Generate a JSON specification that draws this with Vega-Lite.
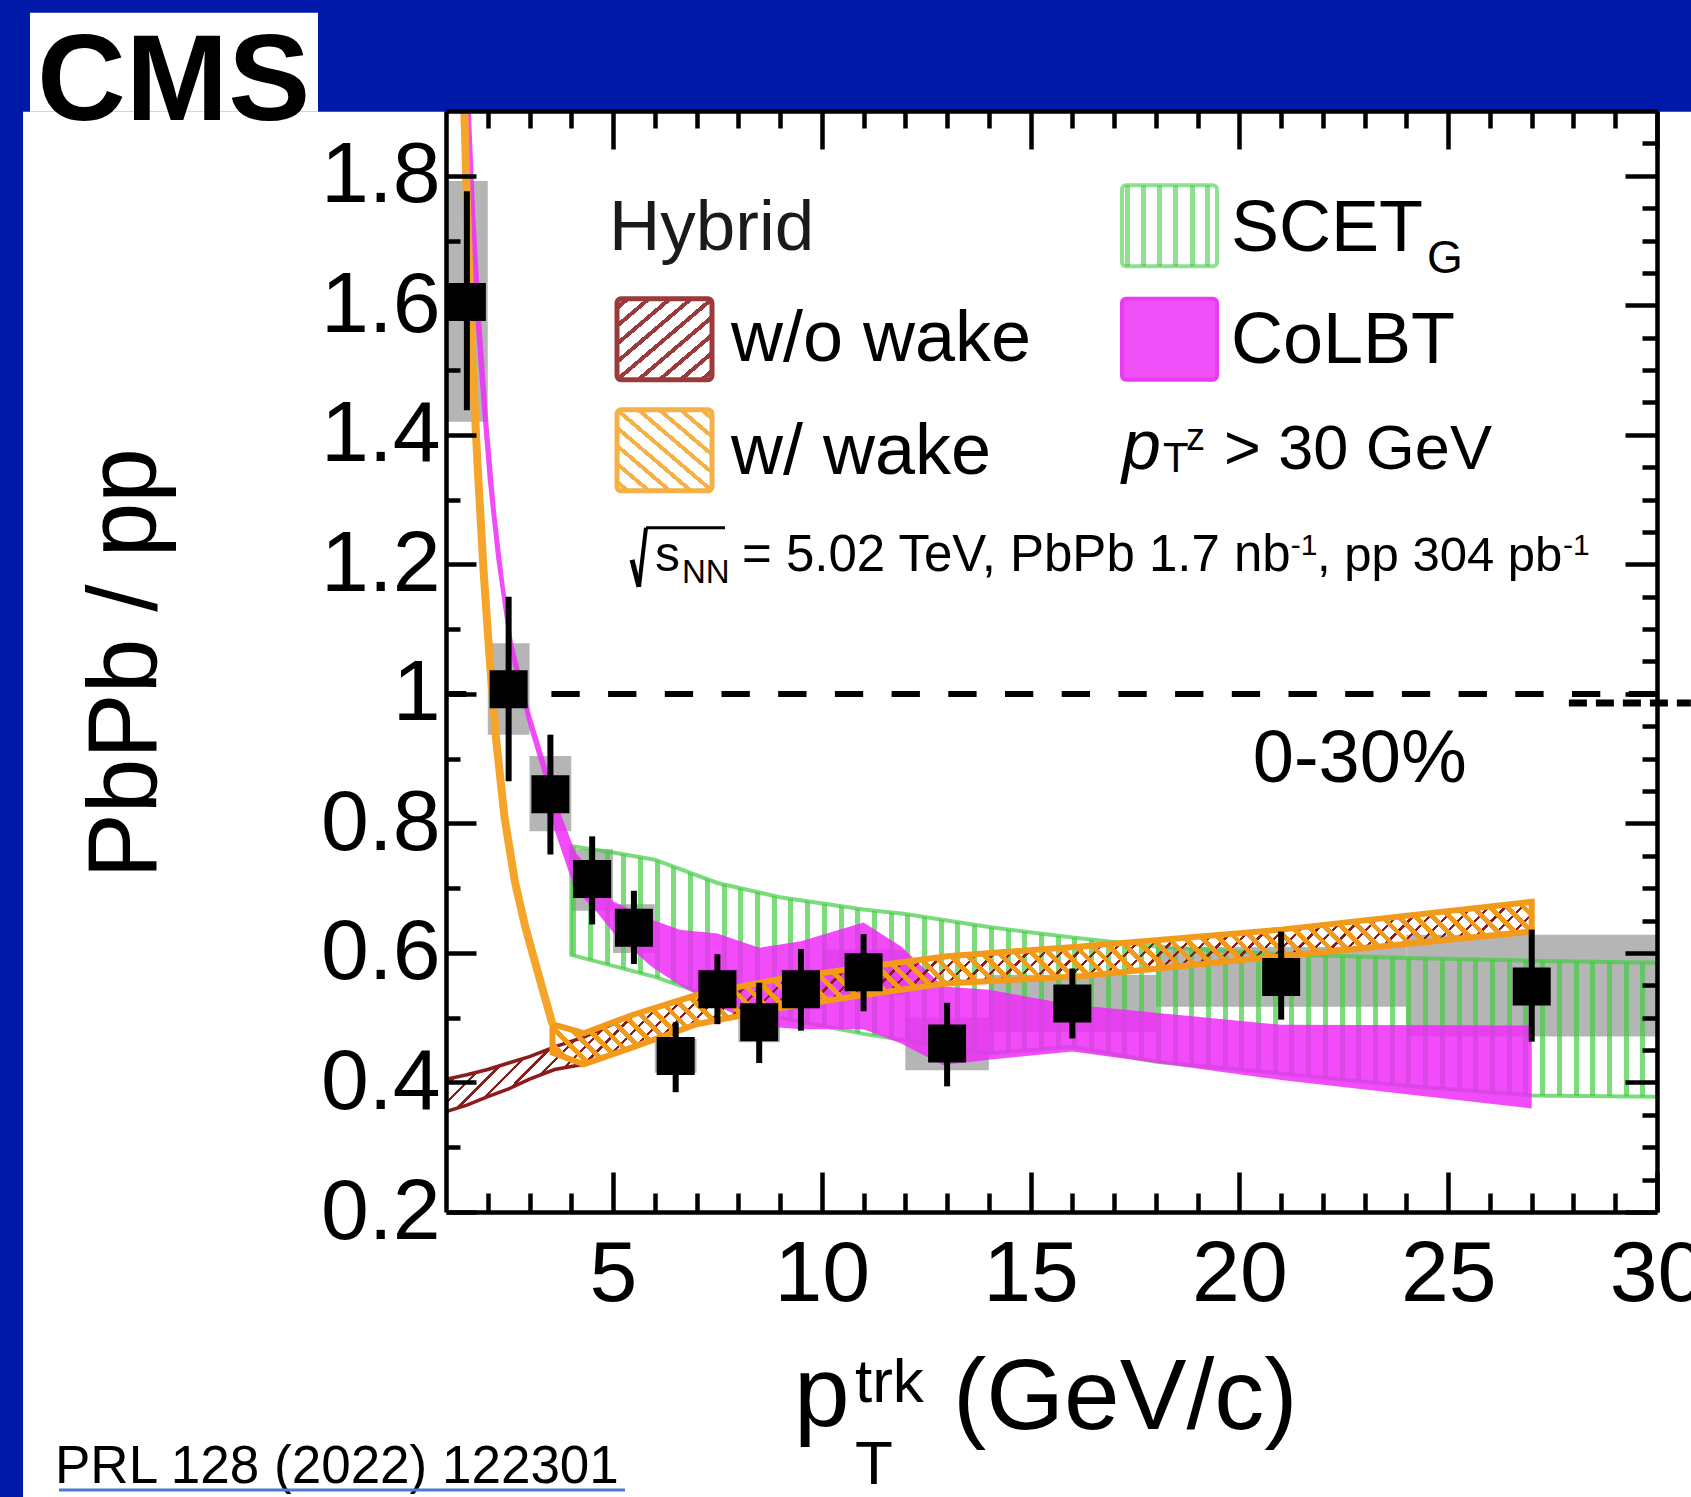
{
"$schema":"https://vega.github.io/schema/vega-lite/v6.json",
"width":1211,"height":1101,
"autosize":{"type":"none"},
"padding":{"left":446,"top":111,"right":34,"bottom":285},
"background":"#0019a8",
"config":{"view":{"stroke":null},"font":"Liberation Sans"},
"datasets":{
"pts":[
{"x":1.5,"y":1.605,"elo":1.438,"ehi":1.776,"slo":1.42,"shi":1.792,"bl":1,"bh":2},
{"x":2.5,"y":1.007,"elo":0.865,"ehi":1.15,"slo":0.937,"shi":1.078,"bl":2,"bh":3},
{"x":3.5,"y":0.845,"elo":0.752,"ehi":0.937,"slo":0.788,"shi":0.904,"bl":3,"bh":4},
{"x":4.5,"y":0.714,"elo":0.644,"ehi":0.78,"slo":0.665,"shi":0.76,"bl":4,"bh":5},
{"x":5.5,"y":0.639,"elo":0.583,"ehi":0.696,"slo":0.6,"shi":0.675,"bl":5,"bh":6},
{"x":6.5,"y":0.441,"elo":0.385,"ehi":0.493,"slo":0.415,"shi":0.467,"bl":6,"bh":7},
{"x":7.5,"y":0.544,"elo":0.49,"ehi":0.598,"slo":0.515,"shi":0.575,"bl":7,"bh":8},
{"x":8.5,"y":0.493,"elo":0.43,"ehi":0.554,"slo":0.462,"shi":0.523,"bl":8,"bh":9},
{"x":9.5,"y":0.544,"elo":0.48,"ehi":0.606,"slo":0.513,"shi":0.575,"bl":9,"bh":10},
{"x":11,"y":0.57,"elo":0.51,"ehi":0.629,"slo":0.535,"shi":0.605,"bl":10,"bh":12},
{"x":13,"y":0.46,"elo":0.394,"ehi":0.523,"slo":0.419,"shi":0.5,"bl":12,"bh":14},
{"x":16,"y":0.522,"elo":0.468,"ehi":0.576,"slo":0.478,"shi":0.566,"bl":14,"bh":18},
{"x":21,"y":0.563,"elo":0.497,"ehi":0.633,"slo":0.517,"shi":0.609,"bl":18,"bh":24},
{"x":27,"y":0.548,"elo":0.463,"ehi":0.636,"slo":0.471,"shi":0.628,"bl":24,"bh":30}],
"scet":[
{"x":4,"lo":0.597,"hi":0.765},{"x":5,"lo":0.58,"hi":0.755},{"x":6,"lo":0.563,"hi":0.744},{"x":7.5,"lo":0.53,"hi":0.708},{"x":9,"lo":0.5,"hi":0.686},{"x":11,"lo":0.475,"hi":0.667},{"x":12,"lo":0.465,"hi":0.66},{"x":14,"lo":0.445,"hi":0.64},{"x":16,"lo":0.455,"hi":0.624},{"x":18,"lo":0.432,"hi":0.61},{"x":21,"lo":0.414,"hi":0.598},{"x":24,"lo":0.395,"hi":0.592},{"x":27,"lo":0.38,"hi":0.588},{"x":30,"lo":0.378,"hi":0.585}],
"colbt":[
{"x":1.4,"lo":1.95,"hi":2.15},{"x":1.55,"lo":1.78,"hi":1.97},{"x":1.7,"lo":1.58,"hi":1.74},{"x":1.85,"lo":1.45,"hi":1.57},{"x":2.0,"lo":1.33,"hi":1.43},{"x":2.2,"lo":1.21,"hi":1.28},{"x":2.4,"lo":1.12,"hi":1.17},{"x":2.6,"lo":1.045,"hi":1.08},{"x":3.0,"lo":0.945,"hi":0.975},{"x":3.4,"lo":0.86,"hi":0.89},{"x":3.6,"lo":0.79,"hi":0.84},{"x":4.1,"lo":0.695,"hi":0.755},{"x":4.5,"lo":0.672,"hi":0.725},{"x":5.0,"lo":0.632,"hi":0.68},{"x":5.9,"lo":0.58,"hi":0.652},{"x":6.6,"lo":0.55,"hi":0.636},{"x":7.5,"lo":0.518,"hi":0.63},{"x":8.5,"lo":0.487,"hi":0.608},{"x":9.5,"lo":0.482,"hi":0.618},{"x":11.0,"lo":0.482,"hi":0.647},{"x":11.9,"lo":0.46,"hi":0.61},{"x":12.9,"lo":0.427,"hi":0.548},{"x":14.0,"lo":0.435,"hi":0.543},{"x":16.0,"lo":0.448,"hi":0.52},{"x":21.0,"lo":0.404,"hi":0.489},{"x":27.0,"lo":0.36,"hi":0.488}],
"nowake":[
{"x":1,"lo":0.355,"hi":0.405},{"x":1.5,"lo":0.365,"hi":0.412},{"x":2,"lo":0.378,"hi":0.42},{"x":2.5,"lo":0.39,"hi":0.43},{"x":3,"lo":0.405,"hi":0.44},{"x":3.6,"lo":0.42,"hi":0.455},{"x":4.3,"lo":0.428,"hi":0.47},{"x":5.5,"lo":0.455,"hi":0.505},{"x":7,"lo":0.49,"hi":0.535},{"x":9,"lo":0.515,"hi":0.56},{"x":11,"lo":0.535,"hi":0.578},{"x":13,"lo":0.553,"hi":0.595},{"x":16.2,"lo":0.564,"hi":0.61},{"x":21,"lo":0.595,"hi":0.636},{"x":27,"lo":0.633,"hi":0.679}],
"wake":[
{"x":3.55,"lo":0.446,"hi":0.49},{"x":4.3,"lo":0.428,"hi":0.476},{"x":5.5,"lo":0.455,"hi":0.505},{"x":7,"lo":0.49,"hi":0.535},{"x":9,"lo":0.515,"hi":0.56},{"x":11,"lo":0.535,"hi":0.578},{"x":13,"lo":0.553,"hi":0.595},{"x":16.2,"lo":0.564,"hi":0.61},{"x":21,"lo":0.595,"hi":0.636},{"x":27,"lo":0.633,"hi":0.679}],
"wakecurve":[
{"x":1.43,"y":1.92},{"x":1.52,"y":1.72},{"x":1.62,"y":1.53},{"x":1.75,"y":1.36},{"x":1.9,"y":1.19},{"x":2.05,"y":1.05},{"x":2.2,"y":0.93},{"x":2.4,"y":0.81},{"x":2.65,"y":0.71},{"x":2.9,"y":0.64},{"x":3.2,"y":0.57},{"x":3.55,"y":0.49}]
},
"data":{"values":[{}]},
"layer":[
{"layer":[
{"mark":{"type":"rect","color":"white","strokeWidth":0},"encoding":{"x":{"datum":-9.129},"x2":{"datum":32},"y":{"datum":1.8988},"y2":{"datum":-0.35}}},
{"mark":{"type":"rect","color":"white","strokeWidth":0},"encoding":{"x":{"datum":-8.962},"x2":{"datum":-2.065},"y":{"datum":2.0517},"y2":{"datum":1.8988}}},
{"data":{"name":"pts"},"mark":{"type":"rect","color":"#b5b5b5","clip":true},
"encoding":{
"x":{"field":"bl","type":"quantitative","scale":{"domain":[1,30],"nice":false,"zero":false},
"axis":{"orient":"bottom","values":[2,3,4,5,6,7,8,9,10,11,12,13,14,15,16,17,18,19,20,21,22,23,24,25,26,27,28,29,30],"tickSize":{"condition":{"test":"datum.value % 5 === 0","value":-40},"value":-19},"tickWidth":4.5,"tickColor":"black","domainColor":"black","domainWidth":4.5,"labelExpr":"datum.value % 5 === 0 ? datum.label : ''","labelFont":"Liberation Sans","labelFontSize":86,"labelColor":"black","labelPadding":60,"labelFlush":false,"labelOverlap":false,"labelBound":false,"grid":false,"title":null,"zindex":1}},
"x2":{"field":"bh"},
"y":{"field":"slo","type":"quantitative","scale":{"domain":[0.2,1.9],"nice":false,"zero":false},
"axis":{"orient":"left","values":[0.2,0.25,0.3,0.35,0.4,0.45,0.5,0.55,0.6,0.65,0.7,0.75,0.8,0.85,0.9,0.95,1,1.05,1.1,1.15,1.2,1.25,1.3,1.35,1.4,1.45,1.5,1.55,1.6,1.65,1.7,1.75,1.8,1.85],"tickSize":{"condition":{"test":"abs(datum.value*5-round(datum.value*5))<0.001","value":-30},"value":-14},"tickWidth":4.5,"tickColor":"black","domainColor":"black","domainWidth":4.5,"labelExpr":"abs(datum.value*5-round(datum.value*5))<0.001 ? (datum.value==1 ? '1' : format(datum.value,'.1f')) : ''","labelFont":"Liberation Sans","labelFontSize":86,"labelColor":"black","labelPadding":36,"labelFlush":false,"labelOverlap":false,"labelBound":false,"grid":false,"title":null,"zindex":1}},
"y2":{"field":"shi"}}},
{"data":{"name":"scet"},"mark":{"type":"area","clip":true,"fillOpacity":0.7,"stroke":"#44cc44","strokeOpacity":0.7,"strokeWidth":4,
"fill":{"gradient":"linear","x1":0,"y1":0,"x2":1,"y2":0,"stops":[
{"offset":0,"color":"#4c4"},{"offset":0.0046,"color":"#4c4"},{"offset":0.0046,"color":"transparent"},{"offset":0.0154,"color":"transparent"},
{"offset":0.0154,"color":"#4c4"},{"offset":0.02,"color":"#4c4"},{"offset":0.02,"color":"transparent"},{"offset":0.0308,"color":"transparent"},
{"offset":0.0308,"color":"#4c4"},{"offset":0.0354,"color":"#4c4"},{"offset":0.0354,"color":"transparent"},{"offset":0.0462,"color":"transparent"},
{"offset":0.0462,"color":"#4c4"},{"offset":0.0508,"color":"#4c4"},{"offset":0.0508,"color":"transparent"},{"offset":0.0615,"color":"transparent"},
{"offset":0.0615,"color":"#4c4"},{"offset":0.0661,"color":"#4c4"},{"offset":0.0661,"color":"transparent"},{"offset":0.0769,"color":"transparent"},
{"offset":0.0769,"color":"#4c4"},{"offset":0.0815,"color":"#4c4"},{"offset":0.0815,"color":"transparent"},{"offset":0.0923,"color":"transparent"},
{"offset":0.0923,"color":"#4c4"},{"offset":0.0969,"color":"#4c4"},{"offset":0.0969,"color":"transparent"},{"offset":0.1077,"color":"transparent"},
{"offset":0.1077,"color":"#4c4"},{"offset":0.1123,"color":"#4c4"},{"offset":0.1123,"color":"transparent"},{"offset":0.1231,"color":"transparent"},
{"offset":0.1231,"color":"#4c4"},{"offset":0.1277,"color":"#4c4"},{"offset":0.1277,"color":"transparent"},{"offset":0.1385,"color":"transparent"},
{"offset":0.1385,"color":"#4c4"},{"offset":0.1431,"color":"#4c4"},{"offset":0.1431,"color":"transparent"},{"offset":0.1538,"color":"transparent"},
{"offset":0.1538,"color":"#4c4"},{"offset":0.1584,"color":"#4c4"},{"offset":0.1584,"color":"transparent"},{"offset":0.1692,"color":"transparent"},
{"offset":0.1692,"color":"#4c4"},{"offset":0.1738,"color":"#4c4"},{"offset":0.1738,"color":"transparent"},{"offset":0.1846,"color":"transparent"},
{"offset":0.1846,"color":"#4c4"},{"offset":0.1892,"color":"#4c4"},{"offset":0.1892,"color":"transparent"},{"offset":0.2,"color":"transparent"},
{"offset":0.2,"color":"#4c4"},{"offset":0.2046,"color":"#4c4"},{"offset":0.2046,"color":"transparent"},{"offset":0.2154,"color":"transparent"},
{"offset":0.2154,"color":"#4c4"},{"offset":0.22,"color":"#4c4"},{"offset":0.22,"color":"transparent"},{"offset":0.2308,"color":"transparent"},
{"offset":0.2308,"color":"#4c4"},{"offset":0.2354,"color":"#4c4"},{"offset":0.2354,"color":"transparent"},{"offset":0.2462,"color":"transparent"},
{"offset":0.2462,"color":"#4c4"},{"offset":0.2508,"color":"#4c4"},{"offset":0.2508,"color":"transparent"},{"offset":0.2615,"color":"transparent"},
{"offset":0.2615,"color":"#4c4"},{"offset":0.2661,"color":"#4c4"},{"offset":0.2661,"color":"transparent"},{"offset":0.2769,"color":"transparent"},
{"offset":0.2769,"color":"#4c4"},{"offset":0.2815,"color":"#4c4"},{"offset":0.2815,"color":"transparent"},{"offset":0.2923,"color":"transparent"},
{"offset":0.2923,"color":"#4c4"},{"offset":0.2969,"color":"#4c4"},{"offset":0.2969,"color":"transparent"},{"offset":0.3077,"color":"transparent"},
{"offset":0.3077,"color":"#4c4"},{"offset":0.3123,"color":"#4c4"},{"offset":0.3123,"color":"transparent"},{"offset":0.3231,"color":"transparent"},
{"offset":0.3231,"color":"#4c4"},{"offset":0.3277,"color":"#4c4"},{"offset":0.3277,"color":"transparent"},{"offset":0.3385,"color":"transparent"},
{"offset":0.3385,"color":"#4c4"},{"offset":0.3431,"color":"#4c4"},{"offset":0.3431,"color":"transparent"},{"offset":0.3538,"color":"transparent"},
{"offset":0.3538,"color":"#4c4"},{"offset":0.3584,"color":"#4c4"},{"offset":0.3584,"color":"transparent"},{"offset":0.3692,"color":"transparent"},
{"offset":0.3692,"color":"#4c4"},{"offset":0.3738,"color":"#4c4"},{"offset":0.3738,"color":"transparent"},{"offset":0.3846,"color":"transparent"},
{"offset":0.3846,"color":"#4c4"},{"offset":0.3892,"color":"#4c4"},{"offset":0.3892,"color":"transparent"},{"offset":0.4,"color":"transparent"},
{"offset":0.4,"color":"#4c4"},{"offset":0.4046,"color":"#4c4"},{"offset":0.4046,"color":"transparent"},{"offset":0.4154,"color":"transparent"},
{"offset":0.4154,"color":"#4c4"},{"offset":0.42,"color":"#4c4"},{"offset":0.42,"color":"transparent"},{"offset":0.4308,"color":"transparent"},
{"offset":0.4308,"color":"#4c4"},{"offset":0.4354,"color":"#4c4"},{"offset":0.4354,"color":"transparent"},{"offset":0.4462,"color":"transparent"},
{"offset":0.4462,"color":"#4c4"},{"offset":0.4508,"color":"#4c4"},{"offset":0.4508,"color":"transparent"},{"offset":0.4615,"color":"transparent"},
{"offset":0.4615,"color":"#4c4"},{"offset":0.4661,"color":"#4c4"},{"offset":0.4661,"color":"transparent"},{"offset":0.4769,"color":"transparent"},
{"offset":0.4769,"color":"#4c4"},{"offset":0.4815,"color":"#4c4"},{"offset":0.4815,"color":"transparent"},{"offset":0.4923,"color":"transparent"},
{"offset":0.4923,"color":"#4c4"},{"offset":0.4969,"color":"#4c4"},{"offset":0.4969,"color":"transparent"},{"offset":0.5077,"color":"transparent"},
{"offset":0.5077,"color":"#4c4"},{"offset":0.5123,"color":"#4c4"},{"offset":0.5123,"color":"transparent"},{"offset":0.5231,"color":"transparent"},
{"offset":0.5231,"color":"#4c4"},{"offset":0.5277,"color":"#4c4"},{"offset":0.5277,"color":"transparent"},{"offset":0.5385,"color":"transparent"},
{"offset":0.5385,"color":"#4c4"},{"offset":0.5431,"color":"#4c4"},{"offset":0.5431,"color":"transparent"},{"offset":0.5538,"color":"transparent"},
{"offset":0.5538,"color":"#4c4"},{"offset":0.5584,"color":"#4c4"},{"offset":0.5584,"color":"transparent"},{"offset":0.5692,"color":"transparent"},
{"offset":0.5692,"color":"#4c4"},{"offset":0.5738,"color":"#4c4"},{"offset":0.5738,"color":"transparent"},{"offset":0.5846,"color":"transparent"},
{"offset":0.5846,"color":"#4c4"},{"offset":0.5892,"color":"#4c4"},{"offset":0.5892,"color":"transparent"},{"offset":0.6,"color":"transparent"},
{"offset":0.6,"color":"#4c4"},{"offset":0.6046,"color":"#4c4"},{"offset":0.6046,"color":"transparent"},{"offset":0.6154,"color":"transparent"},
{"offset":0.6154,"color":"#4c4"},{"offset":0.62,"color":"#4c4"},{"offset":0.62,"color":"transparent"},{"offset":0.6308,"color":"transparent"},
{"offset":0.6308,"color":"#4c4"},{"offset":0.6354,"color":"#4c4"},{"offset":0.6354,"color":"transparent"},{"offset":0.6462,"color":"transparent"},
{"offset":0.6462,"color":"#4c4"},{"offset":0.6508,"color":"#4c4"},{"offset":0.6508,"color":"transparent"},{"offset":0.6615,"color":"transparent"},
{"offset":0.6615,"color":"#4c4"},{"offset":0.6661,"color":"#4c4"},{"offset":0.6661,"color":"transparent"},{"offset":0.6769,"color":"transparent"},
{"offset":0.6769,"color":"#4c4"},{"offset":0.6815,"color":"#4c4"},{"offset":0.6815,"color":"transparent"},{"offset":0.6923,"color":"transparent"},
{"offset":0.6923,"color":"#4c4"},{"offset":0.6969,"color":"#4c4"},{"offset":0.6969,"color":"transparent"},{"offset":0.7077,"color":"transparent"},
{"offset":0.7077,"color":"#4c4"},{"offset":0.7123,"color":"#4c4"},{"offset":0.7123,"color":"transparent"},{"offset":0.7231,"color":"transparent"},
{"offset":0.7231,"color":"#4c4"},{"offset":0.7277,"color":"#4c4"},{"offset":0.7277,"color":"transparent"},{"offset":0.7385,"color":"transparent"},
{"offset":0.7385,"color":"#4c4"},{"offset":0.7431,"color":"#4c4"},{"offset":0.7431,"color":"transparent"},{"offset":0.7538,"color":"transparent"},
{"offset":0.7538,"color":"#4c4"},{"offset":0.7584,"color":"#4c4"},{"offset":0.7584,"color":"transparent"},{"offset":0.7692,"color":"transparent"},
{"offset":0.7692,"color":"#4c4"},{"offset":0.7738,"color":"#4c4"},{"offset":0.7738,"color":"transparent"},{"offset":0.7846,"color":"transparent"},
{"offset":0.7846,"color":"#4c4"},{"offset":0.7892,"color":"#4c4"},{"offset":0.7892,"color":"transparent"},{"offset":0.8,"color":"transparent"},
{"offset":0.8,"color":"#4c4"},{"offset":0.8046,"color":"#4c4"},{"offset":0.8046,"color":"transparent"},{"offset":0.8154,"color":"transparent"},
{"offset":0.8154,"color":"#4c4"},{"offset":0.82,"color":"#4c4"},{"offset":0.82,"color":"transparent"},{"offset":0.8308,"color":"transparent"},
{"offset":0.8308,"color":"#4c4"},{"offset":0.8354,"color":"#4c4"},{"offset":0.8354,"color":"transparent"},{"offset":0.8462,"color":"transparent"},
{"offset":0.8462,"color":"#4c4"},{"offset":0.8508,"color":"#4c4"},{"offset":0.8508,"color":"transparent"},{"offset":0.8615,"color":"transparent"},
{"offset":0.8615,"color":"#4c4"},{"offset":0.8661,"color":"#4c4"},{"offset":0.8661,"color":"transparent"},{"offset":0.8769,"color":"transparent"},
{"offset":0.8769,"color":"#4c4"},{"offset":0.8815,"color":"#4c4"},{"offset":0.8815,"color":"transparent"},{"offset":0.8923,"color":"transparent"},
{"offset":0.8923,"color":"#4c4"},{"offset":0.8969,"color":"#4c4"},{"offset":0.8969,"color":"transparent"},{"offset":0.9077,"color":"transparent"},
{"offset":0.9077,"color":"#4c4"},{"offset":0.9123,"color":"#4c4"},{"offset":0.9123,"color":"transparent"},{"offset":0.9231,"color":"transparent"},
{"offset":0.9231,"color":"#4c4"},{"offset":0.9277,"color":"#4c4"},{"offset":0.9277,"color":"transparent"},{"offset":0.9385,"color":"transparent"},
{"offset":0.9385,"color":"#4c4"},{"offset":0.9431,"color":"#4c4"},{"offset":0.9431,"color":"transparent"},{"offset":0.9538,"color":"transparent"},
{"offset":0.9538,"color":"#4c4"},{"offset":0.9584,"color":"#4c4"},{"offset":0.9584,"color":"transparent"},{"offset":0.9692,"color":"transparent"},
{"offset":0.9692,"color":"#4c4"},{"offset":0.9738,"color":"#4c4"},{"offset":0.9738,"color":"transparent"},{"offset":0.9846,"color":"transparent"},
{"offset":0.9846,"color":"#4c4"},{"offset":0.9892,"color":"#4c4"},{"offset":0.9892,"color":"transparent"},{"offset":1,"color":"transparent"}]}},
"encoding":{"x":{"field":"x","type":"quantitative"},"y":{"field":"lo","type":"quantitative"},"y2":{"field":"hi"}}},
{"data":{"name":"colbt"},"mark":{"type":"area","clip":true,"color":"#ee2bf9","opacity":0.85},"encoding":{"x":{"field":"x","type":"quantitative"},"y":{"field":"lo","type":"quantitative"},"y2":{"field":"hi"}}},
{"data":{"name":"nowake"},"mark":{"type":"area","clip":true,"stroke":"#8c1c1c","strokeWidth":3.5,
"fill":{"gradient":"linear","x1":0,"y1":0,"x2":1.1503,"y2":0.2222,"stops":[
{"offset":0,"color":"#8c1c1c"},{"offset":0.0026,"color":"#8c1c1c"},{"offset":0.0026,"color":"transparent"},{"offset":0.0128,"color":"transparent"},
{"offset":0.0128,"color":"#8c1c1c"},{"offset":0.0154,"color":"#8c1c1c"},{"offset":0.0154,"color":"transparent"},{"offset":0.0256,"color":"transparent"},
{"offset":0.0256,"color":"#8c1c1c"},{"offset":0.0282,"color":"#8c1c1c"},{"offset":0.0282,"color":"transparent"},{"offset":0.0385,"color":"transparent"},
{"offset":0.0385,"color":"#8c1c1c"},{"offset":0.0411,"color":"#8c1c1c"},{"offset":0.0411,"color":"transparent"},{"offset":0.0513,"color":"transparent"},
{"offset":0.0513,"color":"#8c1c1c"},{"offset":0.0539,"color":"#8c1c1c"},{"offset":0.0539,"color":"transparent"},{"offset":0.0641,"color":"transparent"},
{"offset":0.0641,"color":"#8c1c1c"},{"offset":0.0667,"color":"#8c1c1c"},{"offset":0.0667,"color":"transparent"},{"offset":0.0769,"color":"transparent"},
{"offset":0.0769,"color":"#8c1c1c"},{"offset":0.0795,"color":"#8c1c1c"},{"offset":0.0795,"color":"transparent"},{"offset":0.0897,"color":"transparent"},
{"offset":0.0897,"color":"#8c1c1c"},{"offset":0.0923,"color":"#8c1c1c"},{"offset":0.0923,"color":"transparent"},{"offset":0.1026,"color":"transparent"},
{"offset":0.1026,"color":"#8c1c1c"},{"offset":0.1052,"color":"#8c1c1c"},{"offset":0.1052,"color":"transparent"},{"offset":0.1154,"color":"transparent"},
{"offset":0.1154,"color":"#8c1c1c"},{"offset":0.118,"color":"#8c1c1c"},{"offset":0.118,"color":"transparent"},{"offset":0.1282,"color":"transparent"},
{"offset":0.1282,"color":"#8c1c1c"},{"offset":0.1308,"color":"#8c1c1c"},{"offset":0.1308,"color":"transparent"},{"offset":0.141,"color":"transparent"},
{"offset":0.141,"color":"#8c1c1c"},{"offset":0.1436,"color":"#8c1c1c"},{"offset":0.1436,"color":"transparent"},{"offset":0.1538,"color":"transparent"},
{"offset":0.1538,"color":"#8c1c1c"},{"offset":0.1564,"color":"#8c1c1c"},{"offset":0.1564,"color":"transparent"},{"offset":0.1667,"color":"transparent"},
{"offset":0.1667,"color":"#8c1c1c"},{"offset":0.1693,"color":"#8c1c1c"},{"offset":0.1693,"color":"transparent"},{"offset":0.1795,"color":"transparent"},
{"offset":0.1795,"color":"#8c1c1c"},{"offset":0.1821,"color":"#8c1c1c"},{"offset":0.1821,"color":"transparent"},{"offset":0.1923,"color":"transparent"},
{"offset":0.1923,"color":"#8c1c1c"},{"offset":0.1949,"color":"#8c1c1c"},{"offset":0.1949,"color":"transparent"},{"offset":0.2051,"color":"transparent"},
{"offset":0.2051,"color":"#8c1c1c"},{"offset":0.2077,"color":"#8c1c1c"},{"offset":0.2077,"color":"transparent"},{"offset":0.2179,"color":"transparent"},
{"offset":0.2179,"color":"#8c1c1c"},{"offset":0.2205,"color":"#8c1c1c"},{"offset":0.2205,"color":"transparent"},{"offset":0.2308,"color":"transparent"},
{"offset":0.2308,"color":"#8c1c1c"},{"offset":0.2334,"color":"#8c1c1c"},{"offset":0.2334,"color":"transparent"},{"offset":0.2436,"color":"transparent"},
{"offset":0.2436,"color":"#8c1c1c"},{"offset":0.2462,"color":"#8c1c1c"},{"offset":0.2462,"color":"transparent"},{"offset":0.2564,"color":"transparent"},
{"offset":0.2564,"color":"#8c1c1c"},{"offset":0.259,"color":"#8c1c1c"},{"offset":0.259,"color":"transparent"},{"offset":0.2692,"color":"transparent"},
{"offset":0.2692,"color":"#8c1c1c"},{"offset":0.2718,"color":"#8c1c1c"},{"offset":0.2718,"color":"transparent"},{"offset":0.2821,"color":"transparent"},
{"offset":0.2821,"color":"#8c1c1c"},{"offset":0.2847,"color":"#8c1c1c"},{"offset":0.2847,"color":"transparent"},{"offset":0.2949,"color":"transparent"},
{"offset":0.2949,"color":"#8c1c1c"},{"offset":0.2975,"color":"#8c1c1c"},{"offset":0.2975,"color":"transparent"},{"offset":0.3077,"color":"transparent"},
{"offset":0.3077,"color":"#8c1c1c"},{"offset":0.3103,"color":"#8c1c1c"},{"offset":0.3103,"color":"transparent"},{"offset":0.3205,"color":"transparent"},
{"offset":0.3205,"color":"#8c1c1c"},{"offset":0.3231,"color":"#8c1c1c"},{"offset":0.3231,"color":"transparent"},{"offset":0.3333,"color":"transparent"},
{"offset":0.3333,"color":"#8c1c1c"},{"offset":0.3359,"color":"#8c1c1c"},{"offset":0.3359,"color":"transparent"},{"offset":0.3462,"color":"transparent"},
{"offset":0.3462,"color":"#8c1c1c"},{"offset":0.3488,"color":"#8c1c1c"},{"offset":0.3488,"color":"transparent"},{"offset":0.359,"color":"transparent"},
{"offset":0.359,"color":"#8c1c1c"},{"offset":0.3616,"color":"#8c1c1c"},{"offset":0.3616,"color":"transparent"},{"offset":0.3718,"color":"transparent"},
{"offset":0.3718,"color":"#8c1c1c"},{"offset":0.3744,"color":"#8c1c1c"},{"offset":0.3744,"color":"transparent"},{"offset":0.3846,"color":"transparent"},
{"offset":0.3846,"color":"#8c1c1c"},{"offset":0.3872,"color":"#8c1c1c"},{"offset":0.3872,"color":"transparent"},{"offset":0.3974,"color":"transparent"},
{"offset":0.3974,"color":"#8c1c1c"},{"offset":0.4,"color":"#8c1c1c"},{"offset":0.4,"color":"transparent"},{"offset":0.4103,"color":"transparent"},
{"offset":0.4103,"color":"#8c1c1c"},{"offset":0.4129,"color":"#8c1c1c"},{"offset":0.4129,"color":"transparent"},{"offset":0.4231,"color":"transparent"},
{"offset":0.4231,"color":"#8c1c1c"},{"offset":0.4257,"color":"#8c1c1c"},{"offset":0.4257,"color":"transparent"},{"offset":0.4359,"color":"transparent"},
{"offset":0.4359,"color":"#8c1c1c"},{"offset":0.4385,"color":"#8c1c1c"},{"offset":0.4385,"color":"transparent"},{"offset":0.4487,"color":"transparent"},
{"offset":0.4487,"color":"#8c1c1c"},{"offset":0.4513,"color":"#8c1c1c"},{"offset":0.4513,"color":"transparent"},{"offset":0.4615,"color":"transparent"},
{"offset":0.4615,"color":"#8c1c1c"},{"offset":0.4641,"color":"#8c1c1c"},{"offset":0.4641,"color":"transparent"},{"offset":0.4744,"color":"transparent"},
{"offset":0.4744,"color":"#8c1c1c"},{"offset":0.477,"color":"#8c1c1c"},{"offset":0.477,"color":"transparent"},{"offset":0.4872,"color":"transparent"},
{"offset":0.4872,"color":"#8c1c1c"},{"offset":0.4898,"color":"#8c1c1c"},{"offset":0.4898,"color":"transparent"},{"offset":0.5,"color":"transparent"},
{"offset":0.5,"color":"#8c1c1c"},{"offset":0.5026,"color":"#8c1c1c"},{"offset":0.5026,"color":"transparent"},{"offset":0.5128,"color":"transparent"},
{"offset":0.5128,"color":"#8c1c1c"},{"offset":0.5154,"color":"#8c1c1c"},{"offset":0.5154,"color":"transparent"},{"offset":0.5256,"color":"transparent"},
{"offset":0.5256,"color":"#8c1c1c"},{"offset":0.5282,"color":"#8c1c1c"},{"offset":0.5282,"color":"transparent"},{"offset":0.5385,"color":"transparent"},
{"offset":0.5385,"color":"#8c1c1c"},{"offset":0.5411,"color":"#8c1c1c"},{"offset":0.5411,"color":"transparent"},{"offset":0.5513,"color":"transparent"},
{"offset":0.5513,"color":"#8c1c1c"},{"offset":0.5539,"color":"#8c1c1c"},{"offset":0.5539,"color":"transparent"},{"offset":0.5641,"color":"transparent"},
{"offset":0.5641,"color":"#8c1c1c"},{"offset":0.5667,"color":"#8c1c1c"},{"offset":0.5667,"color":"transparent"},{"offset":0.5769,"color":"transparent"},
{"offset":0.5769,"color":"#8c1c1c"},{"offset":0.5795,"color":"#8c1c1c"},{"offset":0.5795,"color":"transparent"},{"offset":0.5897,"color":"transparent"},
{"offset":0.5897,"color":"#8c1c1c"},{"offset":0.5923,"color":"#8c1c1c"},{"offset":0.5923,"color":"transparent"},{"offset":0.6026,"color":"transparent"},
{"offset":0.6026,"color":"#8c1c1c"},{"offset":0.6052,"color":"#8c1c1c"},{"offset":0.6052,"color":"transparent"},{"offset":0.6154,"color":"transparent"},
{"offset":0.6154,"color":"#8c1c1c"},{"offset":0.618,"color":"#8c1c1c"},{"offset":0.618,"color":"transparent"},{"offset":0.6282,"color":"transparent"},
{"offset":0.6282,"color":"#8c1c1c"},{"offset":0.6308,"color":"#8c1c1c"},{"offset":0.6308,"color":"transparent"},{"offset":0.641,"color":"transparent"},
{"offset":0.641,"color":"#8c1c1c"},{"offset":0.6436,"color":"#8c1c1c"},{"offset":0.6436,"color":"transparent"},{"offset":0.6538,"color":"transparent"},
{"offset":0.6538,"color":"#8c1c1c"},{"offset":0.6564,"color":"#8c1c1c"},{"offset":0.6564,"color":"transparent"},{"offset":0.6667,"color":"transparent"},
{"offset":0.6667,"color":"#8c1c1c"},{"offset":0.6693,"color":"#8c1c1c"},{"offset":0.6693,"color":"transparent"},{"offset":0.6795,"color":"transparent"},
{"offset":0.6795,"color":"#8c1c1c"},{"offset":0.6821,"color":"#8c1c1c"},{"offset":0.6821,"color":"transparent"},{"offset":0.6923,"color":"transparent"},
{"offset":0.6923,"color":"#8c1c1c"},{"offset":0.6949,"color":"#8c1c1c"},{"offset":0.6949,"color":"transparent"},{"offset":0.7051,"color":"transparent"},
{"offset":0.7051,"color":"#8c1c1c"},{"offset":0.7077,"color":"#8c1c1c"},{"offset":0.7077,"color":"transparent"},{"offset":0.7179,"color":"transparent"},
{"offset":0.7179,"color":"#8c1c1c"},{"offset":0.7205,"color":"#8c1c1c"},{"offset":0.7205,"color":"transparent"},{"offset":0.7308,"color":"transparent"},
{"offset":0.7308,"color":"#8c1c1c"},{"offset":0.7334,"color":"#8c1c1c"},{"offset":0.7334,"color":"transparent"},{"offset":0.7436,"color":"transparent"},
{"offset":0.7436,"color":"#8c1c1c"},{"offset":0.7462,"color":"#8c1c1c"},{"offset":0.7462,"color":"transparent"},{"offset":0.7564,"color":"transparent"},
{"offset":0.7564,"color":"#8c1c1c"},{"offset":0.759,"color":"#8c1c1c"},{"offset":0.759,"color":"transparent"},{"offset":0.7692,"color":"transparent"},
{"offset":0.7692,"color":"#8c1c1c"},{"offset":0.7718,"color":"#8c1c1c"},{"offset":0.7718,"color":"transparent"},{"offset":0.7821,"color":"transparent"},
{"offset":0.7821,"color":"#8c1c1c"},{"offset":0.7847,"color":"#8c1c1c"},{"offset":0.7847,"color":"transparent"},{"offset":0.7949,"color":"transparent"},
{"offset":0.7949,"color":"#8c1c1c"},{"offset":0.7975,"color":"#8c1c1c"},{"offset":0.7975,"color":"transparent"},{"offset":0.8077,"color":"transparent"},
{"offset":0.8077,"color":"#8c1c1c"},{"offset":0.8103,"color":"#8c1c1c"},{"offset":0.8103,"color":"transparent"},{"offset":0.8205,"color":"transparent"},
{"offset":0.8205,"color":"#8c1c1c"},{"offset":0.8231,"color":"#8c1c1c"},{"offset":0.8231,"color":"transparent"},{"offset":0.8333,"color":"transparent"},
{"offset":0.8333,"color":"#8c1c1c"},{"offset":0.8359,"color":"#8c1c1c"},{"offset":0.8359,"color":"transparent"},{"offset":0.8462,"color":"transparent"},
{"offset":0.8462,"color":"#8c1c1c"},{"offset":0.8488,"color":"#8c1c1c"},{"offset":0.8488,"color":"transparent"},{"offset":0.859,"color":"transparent"},
{"offset":0.859,"color":"#8c1c1c"},{"offset":0.8616,"color":"#8c1c1c"},{"offset":0.8616,"color":"transparent"},{"offset":0.8718,"color":"transparent"},
{"offset":0.8718,"color":"#8c1c1c"},{"offset":0.8744,"color":"#8c1c1c"},{"offset":0.8744,"color":"transparent"},{"offset":0.8846,"color":"transparent"},
{"offset":0.8846,"color":"#8c1c1c"},{"offset":0.8872,"color":"#8c1c1c"},{"offset":0.8872,"color":"transparent"},{"offset":0.8974,"color":"transparent"},
{"offset":0.8974,"color":"#8c1c1c"},{"offset":0.9,"color":"#8c1c1c"},{"offset":0.9,"color":"transparent"},{"offset":0.9103,"color":"transparent"},
{"offset":0.9103,"color":"#8c1c1c"},{"offset":0.9129,"color":"#8c1c1c"},{"offset":0.9129,"color":"transparent"},{"offset":0.9231,"color":"transparent"},
{"offset":0.9231,"color":"#8c1c1c"},{"offset":0.9257,"color":"#8c1c1c"},{"offset":0.9257,"color":"transparent"},{"offset":0.9359,"color":"transparent"},
{"offset":0.9359,"color":"#8c1c1c"},{"offset":0.9385,"color":"#8c1c1c"},{"offset":0.9385,"color":"transparent"},{"offset":0.9487,"color":"transparent"},
{"offset":0.9487,"color":"#8c1c1c"},{"offset":0.9513,"color":"#8c1c1c"},{"offset":0.9513,"color":"transparent"},{"offset":0.9615,"color":"transparent"},
{"offset":0.9615,"color":"#8c1c1c"},{"offset":0.9641,"color":"#8c1c1c"},{"offset":0.9641,"color":"transparent"},{"offset":0.9744,"color":"transparent"},
{"offset":0.9744,"color":"#8c1c1c"},{"offset":0.977,"color":"#8c1c1c"},{"offset":0.977,"color":"transparent"},{"offset":0.9872,"color":"transparent"},
{"offset":0.9872,"color":"#8c1c1c"},{"offset":0.9898,"color":"#8c1c1c"},{"offset":0.9898,"color":"transparent"},{"offset":1,"color":"transparent"}]}},
"encoding":{"x":{"field":"x","type":"quantitative"},"y":{"field":"lo","type":"quantitative"},"y2":{"field":"hi"}}},
{"data":{"name":"wake"},"mark":{"type":"area","clip":true,"stroke":"#f29a1a","strokeWidth":6,
"fill":{"gradient":"linear","x1":0,"y1":1,"x2":1.1347,"y2":0.8118,"stops":[
{"offset":0,"color":"#f29a1a"},{"offset":0.0059,"color":"#f29a1a"},{"offset":0.0059,"color":"transparent"},{"offset":0.0147,"color":"transparent"},
{"offset":0.0147,"color":"#f29a1a"},{"offset":0.0206,"color":"#f29a1a"},{"offset":0.0206,"color":"transparent"},{"offset":0.0294,"color":"transparent"},
{"offset":0.0294,"color":"#f29a1a"},{"offset":0.0353,"color":"#f29a1a"},{"offset":0.0353,"color":"transparent"},{"offset":0.0441,"color":"transparent"},
{"offset":0.0441,"color":"#f29a1a"},{"offset":0.05,"color":"#f29a1a"},{"offset":0.05,"color":"transparent"},{"offset":0.0588,"color":"transparent"},
{"offset":0.0588,"color":"#f29a1a"},{"offset":0.0647,"color":"#f29a1a"},{"offset":0.0647,"color":"transparent"},{"offset":0.0735,"color":"transparent"},
{"offset":0.0735,"color":"#f29a1a"},{"offset":0.0794,"color":"#f29a1a"},{"offset":0.0794,"color":"transparent"},{"offset":0.0882,"color":"transparent"},
{"offset":0.0882,"color":"#f29a1a"},{"offset":0.0941,"color":"#f29a1a"},{"offset":0.0941,"color":"transparent"},{"offset":0.1029,"color":"transparent"},
{"offset":0.1029,"color":"#f29a1a"},{"offset":0.1088,"color":"#f29a1a"},{"offset":0.1088,"color":"transparent"},{"offset":0.1176,"color":"transparent"},
{"offset":0.1176,"color":"#f29a1a"},{"offset":0.1235,"color":"#f29a1a"},{"offset":0.1235,"color":"transparent"},{"offset":0.1324,"color":"transparent"},
{"offset":0.1324,"color":"#f29a1a"},{"offset":0.1383,"color":"#f29a1a"},{"offset":0.1383,"color":"transparent"},{"offset":0.1471,"color":"transparent"},
{"offset":0.1471,"color":"#f29a1a"},{"offset":0.153,"color":"#f29a1a"},{"offset":0.153,"color":"transparent"},{"offset":0.1618,"color":"transparent"},
{"offset":0.1618,"color":"#f29a1a"},{"offset":0.1677,"color":"#f29a1a"},{"offset":0.1677,"color":"transparent"},{"offset":0.1765,"color":"transparent"},
{"offset":0.1765,"color":"#f29a1a"},{"offset":0.1824,"color":"#f29a1a"},{"offset":0.1824,"color":"transparent"},{"offset":0.1912,"color":"transparent"},
{"offset":0.1912,"color":"#f29a1a"},{"offset":0.1971,"color":"#f29a1a"},{"offset":0.1971,"color":"transparent"},{"offset":0.2059,"color":"transparent"},
{"offset":0.2059,"color":"#f29a1a"},{"offset":0.2118,"color":"#f29a1a"},{"offset":0.2118,"color":"transparent"},{"offset":0.2206,"color":"transparent"},
{"offset":0.2206,"color":"#f29a1a"},{"offset":0.2265,"color":"#f29a1a"},{"offset":0.2265,"color":"transparent"},{"offset":0.2353,"color":"transparent"},
{"offset":0.2353,"color":"#f29a1a"},{"offset":0.2412,"color":"#f29a1a"},{"offset":0.2412,"color":"transparent"},{"offset":0.25,"color":"transparent"},
{"offset":0.25,"color":"#f29a1a"},{"offset":0.2559,"color":"#f29a1a"},{"offset":0.2559,"color":"transparent"},{"offset":0.2647,"color":"transparent"},
{"offset":0.2647,"color":"#f29a1a"},{"offset":0.2706,"color":"#f29a1a"},{"offset":0.2706,"color":"transparent"},{"offset":0.2794,"color":"transparent"},
{"offset":0.2794,"color":"#f29a1a"},{"offset":0.2853,"color":"#f29a1a"},{"offset":0.2853,"color":"transparent"},{"offset":0.2941,"color":"transparent"},
{"offset":0.2941,"color":"#f29a1a"},{"offset":0.3,"color":"#f29a1a"},{"offset":0.3,"color":"transparent"},{"offset":0.3088,"color":"transparent"},
{"offset":0.3088,"color":"#f29a1a"},{"offset":0.3147,"color":"#f29a1a"},{"offset":0.3147,"color":"transparent"},{"offset":0.3235,"color":"transparent"},
{"offset":0.3235,"color":"#f29a1a"},{"offset":0.3294,"color":"#f29a1a"},{"offset":0.3294,"color":"transparent"},{"offset":0.3382,"color":"transparent"},
{"offset":0.3382,"color":"#f29a1a"},{"offset":0.3441,"color":"#f29a1a"},{"offset":0.3441,"color":"transparent"},{"offset":0.3529,"color":"transparent"},
{"offset":0.3529,"color":"#f29a1a"},{"offset":0.3588,"color":"#f29a1a"},{"offset":0.3588,"color":"transparent"},{"offset":0.3676,"color":"transparent"},
{"offset":0.3676,"color":"#f29a1a"},{"offset":0.3735,"color":"#f29a1a"},{"offset":0.3735,"color":"transparent"},{"offset":0.3824,"color":"transparent"},
{"offset":0.3824,"color":"#f29a1a"},{"offset":0.3883,"color":"#f29a1a"},{"offset":0.3883,"color":"transparent"},{"offset":0.3971,"color":"transparent"},
{"offset":0.3971,"color":"#f29a1a"},{"offset":0.403,"color":"#f29a1a"},{"offset":0.403,"color":"transparent"},{"offset":0.4118,"color":"transparent"},
{"offset":0.4118,"color":"#f29a1a"},{"offset":0.4177,"color":"#f29a1a"},{"offset":0.4177,"color":"transparent"},{"offset":0.4265,"color":"transparent"},
{"offset":0.4265,"color":"#f29a1a"},{"offset":0.4324,"color":"#f29a1a"},{"offset":0.4324,"color":"transparent"},{"offset":0.4412,"color":"transparent"},
{"offset":0.4412,"color":"#f29a1a"},{"offset":0.4471,"color":"#f29a1a"},{"offset":0.4471,"color":"transparent"},{"offset":0.4559,"color":"transparent"},
{"offset":0.4559,"color":"#f29a1a"},{"offset":0.4618,"color":"#f29a1a"},{"offset":0.4618,"color":"transparent"},{"offset":0.4706,"color":"transparent"},
{"offset":0.4706,"color":"#f29a1a"},{"offset":0.4765,"color":"#f29a1a"},{"offset":0.4765,"color":"transparent"},{"offset":0.4853,"color":"transparent"},
{"offset":0.4853,"color":"#f29a1a"},{"offset":0.4912,"color":"#f29a1a"},{"offset":0.4912,"color":"transparent"},{"offset":0.5,"color":"transparent"},
{"offset":0.5,"color":"#f29a1a"},{"offset":0.5059,"color":"#f29a1a"},{"offset":0.5059,"color":"transparent"},{"offset":0.5147,"color":"transparent"},
{"offset":0.5147,"color":"#f29a1a"},{"offset":0.5206,"color":"#f29a1a"},{"offset":0.5206,"color":"transparent"},{"offset":0.5294,"color":"transparent"},
{"offset":0.5294,"color":"#f29a1a"},{"offset":0.5353,"color":"#f29a1a"},{"offset":0.5353,"color":"transparent"},{"offset":0.5441,"color":"transparent"},
{"offset":0.5441,"color":"#f29a1a"},{"offset":0.55,"color":"#f29a1a"},{"offset":0.55,"color":"transparent"},{"offset":0.5588,"color":"transparent"},
{"offset":0.5588,"color":"#f29a1a"},{"offset":0.5647,"color":"#f29a1a"},{"offset":0.5647,"color":"transparent"},{"offset":0.5735,"color":"transparent"},
{"offset":0.5735,"color":"#f29a1a"},{"offset":0.5794,"color":"#f29a1a"},{"offset":0.5794,"color":"transparent"},{"offset":0.5882,"color":"transparent"},
{"offset":0.5882,"color":"#f29a1a"},{"offset":0.5941,"color":"#f29a1a"},{"offset":0.5941,"color":"transparent"},{"offset":0.6029,"color":"transparent"},
{"offset":0.6029,"color":"#f29a1a"},{"offset":0.6088,"color":"#f29a1a"},{"offset":0.6088,"color":"transparent"},{"offset":0.6176,"color":"transparent"},
{"offset":0.6176,"color":"#f29a1a"},{"offset":0.6235,"color":"#f29a1a"},{"offset":0.6235,"color":"transparent"},{"offset":0.6324,"color":"transparent"},
{"offset":0.6324,"color":"#f29a1a"},{"offset":0.6383,"color":"#f29a1a"},{"offset":0.6383,"color":"transparent"},{"offset":0.6471,"color":"transparent"},
{"offset":0.6471,"color":"#f29a1a"},{"offset":0.653,"color":"#f29a1a"},{"offset":0.653,"color":"transparent"},{"offset":0.6618,"color":"transparent"},
{"offset":0.6618,"color":"#f29a1a"},{"offset":0.6677,"color":"#f29a1a"},{"offset":0.6677,"color":"transparent"},{"offset":0.6765,"color":"transparent"},
{"offset":0.6765,"color":"#f29a1a"},{"offset":0.6824,"color":"#f29a1a"},{"offset":0.6824,"color":"transparent"},{"offset":0.6912,"color":"transparent"},
{"offset":0.6912,"color":"#f29a1a"},{"offset":0.6971,"color":"#f29a1a"},{"offset":0.6971,"color":"transparent"},{"offset":0.7059,"color":"transparent"},
{"offset":0.7059,"color":"#f29a1a"},{"offset":0.7118,"color":"#f29a1a"},{"offset":0.7118,"color":"transparent"},{"offset":0.7206,"color":"transparent"},
{"offset":0.7206,"color":"#f29a1a"},{"offset":0.7265,"color":"#f29a1a"},{"offset":0.7265,"color":"transparent"},{"offset":0.7353,"color":"transparent"},
{"offset":0.7353,"color":"#f29a1a"},{"offset":0.7412,"color":"#f29a1a"},{"offset":0.7412,"color":"transparent"},{"offset":0.75,"color":"transparent"},
{"offset":0.75,"color":"#f29a1a"},{"offset":0.7559,"color":"#f29a1a"},{"offset":0.7559,"color":"transparent"},{"offset":0.7647,"color":"transparent"},
{"offset":0.7647,"color":"#f29a1a"},{"offset":0.7706,"color":"#f29a1a"},{"offset":0.7706,"color":"transparent"},{"offset":0.7794,"color":"transparent"},
{"offset":0.7794,"color":"#f29a1a"},{"offset":0.7853,"color":"#f29a1a"},{"offset":0.7853,"color":"transparent"},{"offset":0.7941,"color":"transparent"},
{"offset":0.7941,"color":"#f29a1a"},{"offset":0.8,"color":"#f29a1a"},{"offset":0.8,"color":"transparent"},{"offset":0.8088,"color":"transparent"},
{"offset":0.8088,"color":"#f29a1a"},{"offset":0.8147,"color":"#f29a1a"},{"offset":0.8147,"color":"transparent"},{"offset":0.8235,"color":"transparent"},
{"offset":0.8235,"color":"#f29a1a"},{"offset":0.8294,"color":"#f29a1a"},{"offset":0.8294,"color":"transparent"},{"offset":0.8382,"color":"transparent"},
{"offset":0.8382,"color":"#f29a1a"},{"offset":0.8441,"color":"#f29a1a"},{"offset":0.8441,"color":"transparent"},{"offset":0.8529,"color":"transparent"},
{"offset":0.8529,"color":"#f29a1a"},{"offset":0.8588,"color":"#f29a1a"},{"offset":0.8588,"color":"transparent"},{"offset":0.8676,"color":"transparent"},
{"offset":0.8676,"color":"#f29a1a"},{"offset":0.8735,"color":"#f29a1a"},{"offset":0.8735,"color":"transparent"},{"offset":0.8824,"color":"transparent"},
{"offset":0.8824,"color":"#f29a1a"},{"offset":0.8883,"color":"#f29a1a"},{"offset":0.8883,"color":"transparent"},{"offset":0.8971,"color":"transparent"},
{"offset":0.8971,"color":"#f29a1a"},{"offset":0.903,"color":"#f29a1a"},{"offset":0.903,"color":"transparent"},{"offset":0.9118,"color":"transparent"},
{"offset":0.9118,"color":"#f29a1a"},{"offset":0.9177,"color":"#f29a1a"},{"offset":0.9177,"color":"transparent"},{"offset":0.9265,"color":"transparent"},
{"offset":0.9265,"color":"#f29a1a"},{"offset":0.9324,"color":"#f29a1a"},{"offset":0.9324,"color":"transparent"},{"offset":0.9412,"color":"transparent"},
{"offset":0.9412,"color":"#f29a1a"},{"offset":0.9471,"color":"#f29a1a"},{"offset":0.9471,"color":"transparent"},{"offset":0.9559,"color":"transparent"},
{"offset":0.9559,"color":"#f29a1a"},{"offset":0.9618,"color":"#f29a1a"},{"offset":0.9618,"color":"transparent"},{"offset":0.9706,"color":"transparent"},
{"offset":0.9706,"color":"#f29a1a"},{"offset":0.9765,"color":"#f29a1a"},{"offset":0.9765,"color":"transparent"},{"offset":0.9853,"color":"transparent"},
{"offset":0.9853,"color":"#f29a1a"},{"offset":0.9912,"color":"#f29a1a"},{"offset":0.9912,"color":"transparent"},{"offset":1,"color":"transparent"}]}},
"encoding":{"x":{"field":"x","type":"quantitative"},"y":{"field":"lo","type":"quantitative"},"y2":{"field":"hi"}}},
{"data":{"name":"wakecurve"},"mark":{"type":"line","clip":true,"color":"#f5a52a","strokeWidth":8},"encoding":{"x":{"field":"x","type":"quantitative"},"y":{"field":"y","type":"quantitative"}}},
{"mark":{"type":"rule","color":"black","strokeWidth":6,"strokeDash":[28.3,28.4]},"encoding":{"y":{"datum":1}}},
{"data":{"name":"pts"},"mark":{"type":"rule","color":"black","strokeWidth":6,"clip":true},"encoding":{"x":{"field":"x","type":"quantitative"},"y":{"field":"elo","type":"quantitative"},"y2":{"field":"ehi"}}},
{"data":{"name":"pts"},"mark":{"type":"point","shape":"square","size":1444,"filled":true,"color":"black","opacity":1,"strokeWidth":0},"encoding":{"x":{"field":"x","type":"quantitative"},"y":{"field":"y","type":"quantitative"}}},
{"mark":{"type":"rect","cornerRadius":4,"stroke":"#9a3a3a","strokeWidth":5,"fill":{"gradient":"linear","x1":0,"y1":0,"x2":1,"y2":1,"stops":[
{"offset":0,"color":"white"},{"offset":0.04,"color":"white"},{"offset":0.04,"color":"#9a3a3a"},{"offset":0.073,"color":"#9a3a3a"},{"offset":0.073,"color":"white"},
{"offset":0.151,"color":"white"},{"offset":0.151,"color":"#9a3a3a"},{"offset":0.184,"color":"#9a3a3a"},{"offset":0.184,"color":"white"},
{"offset":0.262,"color":"white"},{"offset":0.262,"color":"#9a3a3a"},{"offset":0.295,"color":"#9a3a3a"},{"offset":0.295,"color":"white"},
{"offset":0.373,"color":"white"},{"offset":0.373,"color":"#9a3a3a"},{"offset":0.406,"color":"#9a3a3a"},{"offset":0.406,"color":"white"},
{"offset":0.484,"color":"white"},{"offset":0.484,"color":"#9a3a3a"},{"offset":0.517,"color":"#9a3a3a"},{"offset":0.517,"color":"white"},
{"offset":0.596,"color":"white"},{"offset":0.596,"color":"#9a3a3a"},{"offset":0.629,"color":"#9a3a3a"},{"offset":0.629,"color":"white"},
{"offset":0.707,"color":"white"},{"offset":0.707,"color":"#9a3a3a"},{"offset":0.74,"color":"#9a3a3a"},{"offset":0.74,"color":"white"},
{"offset":0.818,"color":"white"},{"offset":0.818,"color":"#9a3a3a"},{"offset":0.851,"color":"#9a3a3a"},{"offset":0.851,"color":"white"},
{"offset":0.929,"color":"white"},{"offset":0.929,"color":"#9a3a3a"},{"offset":0.962,"color":"#9a3a3a"},{"offset":0.962,"color":"white"},{"offset":1,"color":"white"}]}},
"encoding":{"x":{"datum":5.095},"x2":{"datum":7.37},"y":{"datum":1.61},"y2":{"datum":1.485}}},
{"mark":{"type":"rect","cornerRadius":4,"stroke":"#f5b048","strokeWidth":5,"fill":{"gradient":"linear","x1":0,"y1":1,"x2":1,"y2":0,"stops":[
{"offset":0,"color":"white"},{"offset":0.04,"color":"white"},{"offset":0.04,"color":"#f5b048"},{"offset":0.073,"color":"#f5b048"},{"offset":0.073,"color":"white"},
{"offset":0.151,"color":"white"},{"offset":0.151,"color":"#f5b048"},{"offset":0.184,"color":"#f5b048"},{"offset":0.184,"color":"white"},
{"offset":0.262,"color":"white"},{"offset":0.262,"color":"#f5b048"},{"offset":0.295,"color":"#f5b048"},{"offset":0.295,"color":"white"},
{"offset":0.373,"color":"white"},{"offset":0.373,"color":"#f5b048"},{"offset":0.406,"color":"#f5b048"},{"offset":0.406,"color":"white"},
{"offset":0.484,"color":"white"},{"offset":0.484,"color":"#f5b048"},{"offset":0.517,"color":"#f5b048"},{"offset":0.517,"color":"white"},
{"offset":0.596,"color":"white"},{"offset":0.596,"color":"#f5b048"},{"offset":0.629,"color":"#f5b048"},{"offset":0.629,"color":"white"},
{"offset":0.707,"color":"white"},{"offset":0.707,"color":"#f5b048"},{"offset":0.74,"color":"#f5b048"},{"offset":0.74,"color":"white"},
{"offset":0.818,"color":"white"},{"offset":0.818,"color":"#f5b048"},{"offset":0.851,"color":"#f5b048"},{"offset":0.851,"color":"white"},
{"offset":0.929,"color":"white"},{"offset":0.929,"color":"#f5b048"},{"offset":0.962,"color":"#f5b048"},{"offset":0.962,"color":"white"},{"offset":1,"color":"white"}]}},
"encoding":{"x":{"datum":5.095},"x2":{"datum":7.37},"y":{"datum":1.4386},"y2":{"datum":1.3135}}},
{"mark":{"type":"rect","cornerRadius":4,"stroke":"#44cc44","strokeOpacity":0.6,"strokeWidth":4,"fillOpacity":0.6,"fill":{"gradient":"linear","x1":0,"y1":0,"x2":1,"y2":0,"stops":[
{"offset":0,"color":"transparent"},{"offset":0.034,"color":"transparent"},{"offset":0.034,"color":"#4c4"},{"offset":0.086,"color":"#4c4"},{"offset":0.086,"color":"transparent"},
{"offset":0.197,"color":"transparent"},{"offset":0.197,"color":"#4c4"},{"offset":0.249,"color":"#4c4"},{"offset":0.249,"color":"transparent"},
{"offset":0.37,"color":"transparent"},{"offset":0.37,"color":"#4c4"},{"offset":0.422,"color":"#4c4"},{"offset":0.422,"color":"transparent"},
{"offset":0.541,"color":"transparent"},{"offset":0.541,"color":"#4c4"},{"offset":0.593,"color":"#4c4"},{"offset":0.593,"color":"transparent"},
{"offset":0.714,"color":"transparent"},{"offset":0.714,"color":"#4c4"},{"offset":0.766,"color":"#4c4"},{"offset":0.766,"color":"transparent"},
{"offset":0.874,"color":"transparent"},{"offset":0.874,"color":"#4c4"},{"offset":0.926,"color":"#4c4"},{"offset":0.926,"color":"transparent"},{"offset":1,"color":"transparent"}]}},
"encoding":{"x":{"datum":17.188},"x2":{"datum":19.463},"y":{"datum":1.7853},"y2":{"datum":1.6604}}},
{"mark":{"type":"rect","cornerRadius":4,"fill":"#f050f8","stroke":"#e83cf0","strokeWidth":4},"encoding":{"x":{"datum":17.188},"x2":{"datum":19.463},"y":{"datum":1.61},"y2":{"datum":1.485}}},
{"mark":{"type":"text","text":"CMS","font":"Liberation Sans","fontWeight":"bold","fontSize":123,"align":"left","baseline":"alphabetic","color":"black"},"encoding":{"x":{"datum":-8.794},"y":{"datum":1.8865}}},
{"mark":{"type":"text","text":"Hybrid","fontSize":71,"align":"left","baseline":"alphabetic","color":"#1a1a1a"},"encoding":{"x":{"datum":4.903},"y":{"datum":1.6857}}},
{"mark":{"type":"text","text":"w/o wake","fontSize":72,"align":"left","baseline":"alphabetic","color":"black"},"encoding":{"x":{"datum":7.825},"y":{"datum":1.5143}}},
{"mark":{"type":"text","text":"w/ wake","fontSize":72,"align":"left","baseline":"alphabetic","color":"black"},"encoding":{"x":{"datum":7.825},"y":{"datum":1.339}}},
{"mark":{"type":"text","text":"SCET","fontSize":72,"align":"left","baseline":"alphabetic","color":"black"},"encoding":{"x":{"datum":19.798},"y":{"datum":1.6842}}},
{"mark":{"type":"text","text":"G","fontSize":46,"align":"left","baseline":"alphabetic","color":"black"},"encoding":{"x":{"datum":24.49},"y":{"datum":1.6502}}},
{"mark":{"type":"text","text":"CoLBT","fontSize":72,"align":"left","baseline":"alphabetic","color":"black"},"encoding":{"x":{"datum":19.798},"y":{"datum":1.5104}}},
{"mark":{"type":"text","text":"p","fontSize":70,"fontStyle":"italic","align":"left","baseline":"alphabetic","color":"black"},"encoding":{"x":{"datum":17.188},"y":{"datum":1.3475}}},
{"mark":{"type":"text","text":"T","fontSize":42,"align":"left","baseline":"alphabetic","color":"black"},"encoding":{"x":{"datum":18.17},"y":{"datum":1.3429}}},
{"mark":{"type":"text","text":"z","fontSize":38,"align":"left","baseline":"alphabetic","color":"black"},"encoding":{"x":{"datum":18.72},"y":{"datum":1.3768}}},
{"mark":{"type":"text","text":"> 30 GeV","fontSize":63,"align":"left","baseline":"alphabetic","color":"black"},"encoding":{"x":{"datum":19.63},"y":{"datum":1.3475}}},
{"mark":{"type":"rule","color":"black","strokeWidth":5},"encoding":{"x":{"datum":5.454},"y":{"datum":1.207},"x2":{"datum":5.622},"y2":{"datum":1.1653}}},
{"mark":{"type":"rule","color":"black","strokeWidth":4},"encoding":{"x":{"datum":5.622},"y":{"datum":1.1653},"x2":{"datum":5.789},"y2":{"datum":1.2564}}},
{"mark":{"type":"rule","color":"black","strokeWidth":3},"encoding":{"x":{"datum":5.789},"y":{"datum":1.2564},"x2":{"datum":7.681},"y2":{"datum":1.2564}}},
{"mark":{"type":"text","text":"s","fontSize":50,"align":"left","baseline":"alphabetic","color":"black"},"encoding":{"x":{"datum":6.005},"y":{"datum":1.189}}},
{"mark":{"type":"text","text":"NN","fontSize":33,"align":"left","baseline":"alphabetic","color":"black"},"encoding":{"x":{"datum":6.651},"y":{"datum":1.1714}}},
{"mark":{"type":"text","text":"= 5.02 TeV, PbPb 1.7 nb","fontSize":51,"align":"left","baseline":"alphabetic","color":"black"},"encoding":{"x":{"datum":8.088},"y":{"datum":1.189}}},
{"mark":{"type":"text","text":"-1","fontSize":30,"align":"left","baseline":"alphabetic","color":"black"},"encoding":{"x":{"datum":21.23},"y":{"datum":1.2147}}},
{"mark":{"type":"text","text":", pp 304 pb","fontSize":49,"align":"left","baseline":"alphabetic","color":"black"},"encoding":{"x":{"datum":21.86},"y":{"datum":1.189}}},
{"mark":{"type":"text","text":"-1","fontSize":30,"align":"left","baseline":"alphabetic","color":"black"},"encoding":{"x":{"datum":27.75},"y":{"datum":1.2147}}},
{"mark":{"type":"text","text":"0-30%","fontSize":74,"align":"left","baseline":"alphabetic","color":"black"},"encoding":{"x":{"datum":20.32},"y":{"datum":0.864}}},
{"mark":{"type":"text","text":"PbPb / pp","fontSize":98,"angle":270,"align":"center","baseline":"alphabetic","color":"black"},"encoding":{"x":{"datum":-5.944},"y":{"datum":1.0471}}},
{"mark":{"type":"text","text":"p","fontSize":100,"align":"left","baseline":"alphabetic","color":"black"},"encoding":{"x":{"datum":9.333},"y":{"datum":-0.1305}}},
{"mark":{"type":"text","text":"trk","fontSize":62,"align":"left","baseline":"alphabetic","color":"black"},"encoding":{"x":{"datum":10.794},"y":{"datum":-0.0934}}},
{"mark":{"type":"text","text":"T","fontSize":62,"align":"left","baseline":"alphabetic","color":"black"},"encoding":{"x":{"datum":10.794},"y":{"datum":-0.22}}},
{"mark":{"type":"text","text":"(GeV/c)","fontSize":100,"align":"left","baseline":"alphabetic","color":"black"},"encoding":{"x":{"datum":13.141},"y":{"datum":-0.1351}}},
{"mark":{"type":"text","text":"PRL 128 (2022) 122301","fontSize":53,"align":"left","baseline":"alphabetic","color":"black"},"encoding":{"x":{"datum":-8.363},"y":{"datum":-0.2185}}},
{"mark":{"type":"rule","color":"#4a7bd0","strokeWidth":3},"encoding":{"x":{"datum":-8.267},"x2":{"datum":5.286},"y":{"datum":-0.2293},"y2":{"datum":-0.2293}}},
{"mark":{"type":"rule","color":"black","strokeWidth":7,"strokeDash":[18,9]},"encoding":{"x":{"datum":27.89},"x2":{"datum":30.81},"y":{"datum":0.986},"y2":{"datum":0.986}}}
]},
{"data":{"name":"pts"},"mark":{"type":"point","opacity":0},
"encoding":{
"x":{"field":"x","type":"quantitative","axis":{"orient":"top","values":[2,3,4,5,6,7,8,9,10,11,12,13,14,15,16,17,18,19,20,21,22,23,24,25,26,27,28,29,30],"tickSize":{"condition":{"test":"datum.value % 5 === 0","value":-38},"value":-17},"tickWidth":4.5,"tickColor":"black","domainColor":"black","domainWidth":4.5,"labels":false,"grid":false,"title":null,"zindex":1}},
"y":{"field":"y","type":"quantitative","axis":{"orient":"right","values":[0.2,0.25,0.3,0.35,0.4,0.45,0.5,0.55,0.6,0.65,0.7,0.75,0.8,0.85,0.9,0.95,1,1.05,1.1,1.15,1.2,1.25,1.3,1.35,1.4,1.45,1.5,1.55,1.6,1.65,1.7,1.75,1.8,1.85],"tickSize":{"condition":{"test":"abs(datum.value*5-round(datum.value*5))<0.001","value":-32},"value":-15},"tickWidth":4.5,"tickColor":"black","domainColor":"black","domainWidth":4.5,"labels":false,"grid":false,"title":null,"zindex":1}}}}
],
"resolve":{"axis":{"x":"independent","y":"independent"}}
}
